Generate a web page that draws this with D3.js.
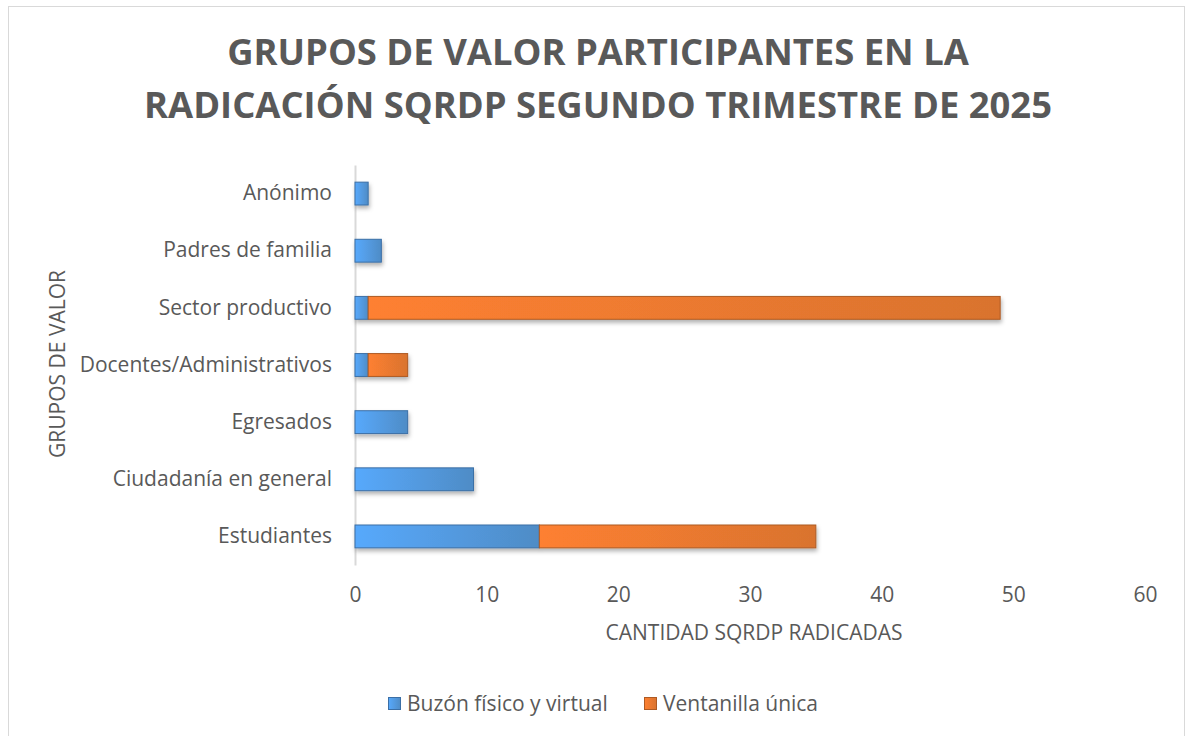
<!DOCTYPE html>
<html>
  <head>
    <meta charset="UTF-8" />
    <title>Grupos de valor SQRDP</title>
    <style>
      body,
      html {
        margin: 0;
        padding: 0;
        overflow: hidden;
        background: #fff;
      }
      svg text {
        font-family: "Open Sans", sans-serif;
        fill: #595959;
      }
    </style>
  </head>
  <body>
    <svg id="chart"></svg>
    <script src="https://d3js.org/d3.v7.min.js"></script>
    <script>
      const width = 1186;
      const height = 736;

      // data, top to bottom
      const categories = [
        "Anónimo",
        "Padres de familia",
        "Sector productivo",
        "Docentes/Administrativos",
        "Egresados ",
        "Ciudadanía en general",
        "Estudiantes",
      ];
      const buzon = [1, 2, 1, 1, 4, 9, 14];
      const ventanilla = [0, 0, 48, 3, 0, 0, 21];
      const seriesNames = ["Buzón físico y virtual", "Ventanilla única"];
      const xTicks = [0, 10, 20, 30, 40, 50, 60];

      const svg = d3
        .select("#chart")
        .attr("width", width)
        .attr("height", height);

      const defs = svg.append("defs");
      const gradBlue = defs
        .append("linearGradient")
        .attr("id", "gBlue")
        .attr("x1", "0%")
        .attr("x2", "100%");
      gradBlue.append("stop").attr("offset", "0%").attr("stop-color", "#57a9fc");
      gradBlue.append("stop").attr("offset", "100%").attr("stop-color", "#4f8cc6");
      const gradOrange = defs
        .append("linearGradient")
        .attr("id", "gOrange")
        .attr("x1", "0%")
        .attr("x2", "100%");
      gradOrange.append("stop").attr("offset", "0%").attr("stop-color", "#fe8030");
      gradOrange.append("stop").attr("offset", "100%").attr("stop-color", "#d9732f");
      const shadow = defs
        .append("filter")
        .attr("id", "shadow")
        .attr("x", "-5%")
        .attr("y", "-30%")
        .attr("width", "110%")
        .attr("height", "180%");
      shadow
        .append("feDropShadow")
        .attr("dx", 1)
        .attr("dy", 3)
        .attr("stdDeviation", 2)
        .attr("flood-color", "#000")
        .attr("flood-opacity", 0.3);

      // chart frame
      svg
        .append("rect")
        .attr("x", 8.5)
        .attr("y", 6.5)
        .attr("width", 1176)
        .attr("height", 740)
        .attr("fill", "#fff")
        .attr("stroke", "#d9d9d9");

      // title
      const title = svg
        .append("text")
        .attr("text-anchor", "middle")
        .attr("font-weight", "bold")
        .attr("font-size", 36.4);
      title.append("tspan").attr("x", 598).attr("y", 65).text("GRUPOS DE VALOR PARTICIPANTES EN LA");
      title
        .append("tspan")
        .attr("x", 598)
        .attr("y", 118)
        .text("RADICACIÓN SQRDP SEGUNDO TRIMESTRE DE 2025");

      const plot = { left: 355, right: 1145, top: 165, bottom: 565 };

      const x = d3.scaleLinear().domain([0, 60]).range([plot.left, plot.right]);
      const y = d3
        .scaleBand()
        .domain(categories)
        .range([plot.top, plot.bottom])
        .paddingInner(0.6)
        .paddingOuter(0.3);

      // x axis labels (no line, as in the reference)
      const xAxis = svg
        .append("g")
        .attr("transform", `translate(0,${plot.bottom})`)
        .call(d3.axisBottom(x).tickValues(xTicks).tickSize(0).tickPadding(22));
      xAxis.select(".domain").remove();
      xAxis
        .selectAll("text")
        .attr("font-size", 21)
        .attr("font-family", "Open Sans, sans-serif")
        .attr("fill", "#595959");

      // y axis
      const yAxis = svg
        .append("g")
        .attr("transform", `translate(${plot.left},0)`)
        .call(d3.axisLeft(y).tickSize(0).tickPadding(23));
      yAxis.select(".domain").attr("stroke", "#d9d9d9").attr("stroke-width", 2);
      yAxis
        .selectAll("text")
        .attr("font-size", 21)
        .attr("font-family", "Open Sans, sans-serif")
        .attr("fill", "#595959");

      // bars
      const rows = categories.map((c, i) => ({ c, b: buzon[i], v: ventanilla[i] }));
      const bars = svg.append("g").attr("filter", "url(#shadow)");
      bars
        .selectAll(".b")
        .data(rows.filter((d) => d.b > 0))
        .join("rect")
        .attr("x", x(0))
        .attr("y", (d) => y(d.c))
        .attr("width", (d) => x(d.b) - x(0))
        .attr("height", y.bandwidth())
        .attr("fill", "url(#gBlue)")
        .attr("stroke", "#3b6fa6")
        .attr("stroke-width", 1);
      bars
        .selectAll(".v")
        .data(rows.filter((d) => d.v > 0))
        .join("rect")
        .attr("x", (d) => x(d.b))
        .attr("y", (d) => y(d.c))
        .attr("width", (d) => x(d.b + d.v) - x(d.b))
        .attr("height", y.bandwidth())
        .attr("fill", "url(#gOrange)")
        .attr("stroke", "#ae5a23")
        .attr("stroke-width", 1);

      // axis titles
      svg
        .append("text")
        .attr("x", 754)
        .attr("y", 640)
        .attr("text-anchor", "middle")
        .attr("font-size", 21)
        .text("CANTIDAD SQRDP RADICADAS");
      svg
        .append("text")
        .attr("transform", `translate(65,364) rotate(-90)`)
        .attr("text-anchor", "middle")
        .attr("font-size", 21)
        .text("GRUPOS DE VALOR");

      // legend
      const legend = svg.append("g").attr("transform", "translate(388,703)");
      const legendX = [0, 256];
      const legendFill = ["url(#gBlue)", "url(#gOrange)"];
      const legendStroke = ["#3b6fa6", "#ae5a23"];
      seriesNames.forEach((name, i) => {
        const g = legend.append("g").attr("transform", `translate(${legendX[i]},0)`);
        g.append("rect")
          .attr("x", 0.5)
          .attr("y", -5.5)
          .attr("width", 12)
          .attr("height", 12)
          .attr("fill", legendFill[i])
          .attr("stroke", legendStroke[i]);
        g.append("text")
          .attr("x", 19)
          .attr("y", 8)
          .attr("font-size", 21)
          .text(name);
      });
    </script>
  </body>
</html>
